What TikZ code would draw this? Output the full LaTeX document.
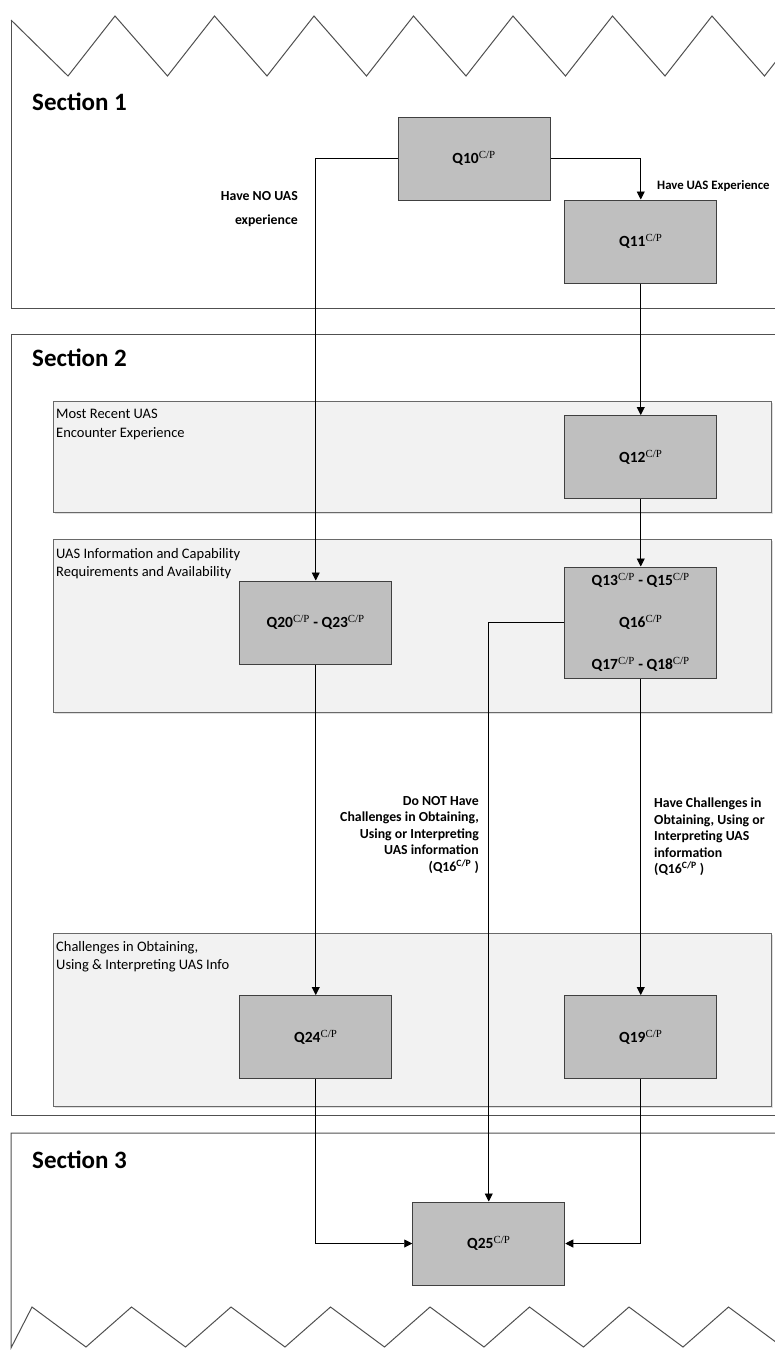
\documentclass[tikz,border=0pt]{standalone}
\usepackage{fontspec}
\setmainfont{Carlito}
\newfontfamily\supfont{Liberation Serif}
\usepackage{xcolor}
\usetikzlibrary{arrows.meta,shadows}

\definecolor{qfill}{RGB}{191,191,191}
\definecolor{qline}{RGB}{64,64,64}
\definecolor{panelfill}{RGB}{242,242,242}
\definecolor{panelline}{RGB}{105,105,105}
\definecolor{frameline}{RGB}{80,80,80}

\newcommand{\cpsup}{\textsuperscript{\supfont\mdseries C/P}}

\tikzset{
	qbox/.style={draw=qline, fill=qfill, line width=1pt, minimum width=152pt, minimum height=83pt,
		inner sep=0pt, align=center, font=\bfseries\fontsize{15.5}{18}\selectfont},
	panel/.style={draw=panelline, fill=panelfill, line width=1pt,
		drop shadow={shadow xshift=1.5pt, shadow yshift=-1.5pt, opacity=0.25}},
	panellabel/.style={anchor=north west, inner sep=0pt, align=left, font=\fontsize{14.5}{18.5}\selectfont},
	sectionlabel/.style={anchor=west, inner sep=0pt, font=\bfseries\fontsize{25}{28}\selectfont},
	frame/.style={draw=frameline, line width=1pt},
	flow/.style={line width=0.9pt, -{Triangle[length=8pt,width=8pt]}},
	flowlabel/.style={inner sep=0pt, font=\bfseries\fontsize{13.8}{16.5}\selectfont}
}

\begin{document}
\begin{tikzpicture}[x=1pt, y=-1pt]
	\useasboundingbox (0,0) rectangle (775,1350);
	\clip (0,0) rectangle (775,1350);
	\fill[white] (0,0) rectangle (775,1350);

	\draw[frame] (11,20)
		\foreach \k in {0,...,7}
		{
			-- ({68+99.5*\k},76) -- ({115+99.5*\k},16)
		};
	\draw[frame] (11,20) -- (11,308) -- (790,308);
	\draw[frame] (790,334) -- (11,334) -- (11,1115) -- (790,1115);
	\draw[frame] (790,1133) -- (11,1133) -- (11,1348) -- (32,1307)
		\foreach \k in {0,...,7}
		{
			-- ({86+99.5*\k},1347) -- ({131.5+99.5*\k},1307)
		};

	\node[sectionlabel] (sec1) at (32,102) {Section 1};
	\node[sectionlabel] (sec2) at (32,358) {Section 2};
	\node[sectionlabel] (sec3) at (32,1160) {Section 3};

	\path[panel] (53,401) rectangle (771,512);
	\path[panel] (53,539) rectangle (771,712);
	\path[panel] (53,933) rectangle (771,1106);
	\node[panellabel] (recent) at (56,409) {Most Recent UAS\\Encounter Experience};
	\node[panellabel] (capab) at (56,548) {UAS Information and Capability\\Requirements and Availability};
	\node[panellabel] (chall) at (56,941) {Challenges in Obtaining,\\Using \& Interpreting UAS Info};

	\node[qbox] (q10) at (474,158.5) {Q10\cpsup};
	\node[qbox] (q11) at (640.75,241.5) {Q11\cpsup};
	\node[qbox] (q12) at (640.75,457) {Q12\cpsup};
	\node[qbox, minimum height=111pt, font=\bfseries\fontsize{15.5}{42}\selectfont] (q13) at (640.75,622.5)
		{Q13\cpsup{} - Q15\cpsup\\Q16\cpsup\\Q17\cpsup{} - Q18\cpsup};
	\node[qbox] (q20) at (315.75,622.5) {Q20\cpsup{} - Q23\cpsup};
	\node[qbox] (q24) at (315.75,1037) {Q24\cpsup};
	\node[qbox] (q19) at (640.75,1037) {Q19\cpsup};
	\node[qbox] (q25) at (488.75,1243.5) {Q25\cpsup};

	\draw[flow] (q10.west) -| (q20.north);
	\draw[flow] (q10.east) -| (q11.north);
	\draw[flow] (q11) -- (q12);
	\draw[flow] (q12) -- (q13);
	\draw[flow] (q13.west) -| (q25.north);
	\draw[flow] (q13) -- (q19);
	\draw[flow] (q20) -- (q24);
	\draw[flow] (q24.south) |- (q25.west);
	\draw[flow] (q19.south) |- (q25.east);

	\node[flowlabel, anchor=east, align=right, font=\bfseries\fontsize{13.8}{24}\selectfont] (nouas) at (298,209)
		{Have NO UAS\\experience};
	\node[flowlabel, anchor=west, font=\bfseries\fontsize{12.8}{16}\selectfont] (hasuas) at (657,186) {Have UAS Experience};
	\node[flowlabel, anchor=east, align=right] (nochall) at (479,835)
		{Do NOT Have\\Challenges in Obtaining,\\Using or Interpreting\\UAS information\\(Q16\textsuperscript{C/P} )};
	\node[flowlabel, anchor=west, align=left] (haschall) at (654,837)
		{Have Challenges in\\Obtaining, Using or\\Interpreting UAS\\information\\(Q16\textsuperscript{C/P} )};
\end{tikzpicture}
\end{document}
